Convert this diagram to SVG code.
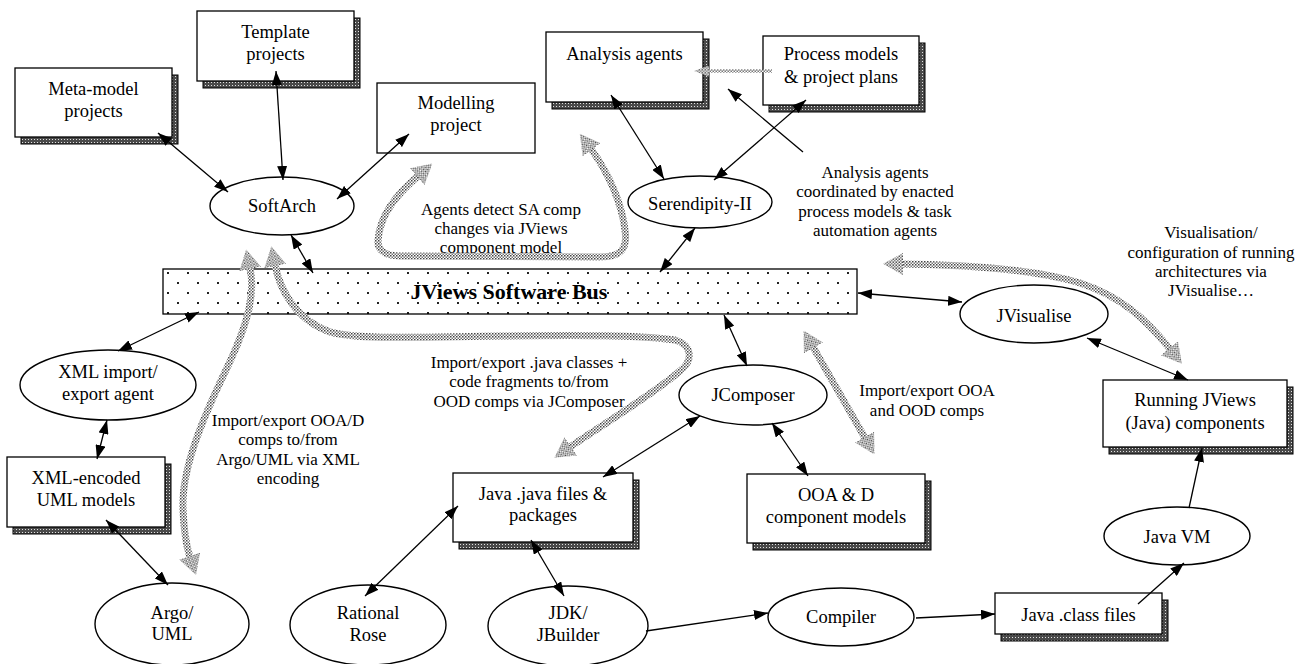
<svg xmlns="http://www.w3.org/2000/svg" width="1297" height="664" viewBox="0 0 1297 664">
<style>
.box{fill:#fff;stroke:#000;stroke-width:1.3}
.shadow{fill:url(#shd);stroke:#000;stroke-width:1}
.ell{fill:#fff;stroke:#000;stroke-width:1.4}
.nt{font-family:"Liberation Serif","Times New Roman",serif;font-size:18.5px;text-anchor:middle;fill:#000}
.lb{font-family:"Liberation Serif","Times New Roman",serif;font-size:17px;text-anchor:middle;fill:#000}
.bus{font-family:"Liberation Serif","Times New Roman",serif;font-size:22px;font-weight:bold;text-anchor:middle;fill:#000}
.con{fill:none;stroke:#000;stroke-width:1.3;marker-end:url(#ah)}
.dbl{marker-start:url(#ah)}
.g{fill:none;stroke:url(#gd);stroke-width:7;marker-start:url(#gh);marker-end:url(#gh)}
</style>
<defs>
<pattern id="shd" width="3" height="3" patternUnits="userSpaceOnUse">
<rect width="3" height="3" fill="#4a4a4a"/>
<rect x="1" y="1" width="1" height="1" fill="#e0e0e0"/>
</pattern>
<pattern id="gd" width="3" height="3" patternUnits="userSpaceOnUse">
<rect width="3" height="3" fill="#fff"/>
<rect width="1.5" height="1.5" fill="#444"/>
<rect x="1.5" y="1.5" width="1.5" height="1.5" fill="#777"/>
</pattern>
<pattern id="bd" x="163" y="269" width="20" height="20" patternUnits="userSpaceOnUse">
<rect width="20" height="20" fill="#fff"/>
<rect x="4" y="3" width="2" height="2" fill="#222"/>
<rect x="14" y="13" width="2" height="2" fill="#222"/>
</pattern>
<marker id="ah" viewBox="0 0 14 10" refX="14" refY="5" markerWidth="14" markerHeight="10" markerUnits="userSpaceOnUse" orient="auto-start-reverse">
<path d="M0,0 L14,5 L0,10 z" fill="#000"/>
</marker>
<marker id="gh" viewBox="0 0 20 22" refX="1" refY="11" markerWidth="20" markerHeight="22" markerUnits="userSpaceOnUse" orient="auto-start-reverse">
<path d="M0,0 L20,11 L0,22 z" fill="url(#gd)"/>
</marker>
<marker id="gsh" viewBox="0 0 15 11" refX="1" refY="5.5" markerWidth="15" markerHeight="11" markerUnits="userSpaceOnUse" orient="auto">
<path d="M0,0 L15,5.5 L0,11 z" fill="url(#gd)"/>
</marker>
</defs>
<rect width="1297" height="664" fill="#fff"/>

<g id="meta-model-projects">
<rect class="shadow" x="21" y="75" width="157" height="69"/>
<rect class="box" x="15" y="68" width="157" height="69"/>
<text class="nt" x="93.5" y="94.5">Meta-model</text>
<text class="nt" x="93.5" y="117">projects</text>
</g>
<g id="template-projects">
<rect class="shadow" x="203" y="18" width="157" height="70"/>
<rect class="box" x="197" y="11" width="157" height="70"/>
<text class="nt" x="275.5" y="37.5">Template</text>
<text class="nt" x="275.5" y="60">projects</text>
</g>
<g id="modelling-project">
<rect class="box" x="377" y="83" width="158" height="70"/>
<text class="nt" x="456" y="108.5">Modelling</text>
<text class="nt" x="456" y="131">project</text>
</g>
<g id="analysis-agents">
<rect class="shadow" x="552" y="39" width="157" height="70"/>
<rect class="box" x="546" y="32" width="157" height="70"/>
<text class="nt" x="624.5" y="59.5">Analysis agents</text>
</g>
<g id="process-models">
<rect class="shadow" x="769" y="43" width="156" height="69"/>
<rect class="box" x="763" y="36" width="156" height="69"/>
<text class="nt" x="841" y="59.5">Process models</text>
<text class="nt" x="841" y="83">&amp; project plans</text>
</g>
<g id="softarch">
<ellipse class="ell" cx="282" cy="206" rx="72" ry="29"/>
<text class="nt" x="282" y="212">SoftArch</text>
</g>
<g id="serendipity">
<ellipse class="ell" cx="700" cy="202" rx="72" ry="26"/>
<text class="nt" x="700" y="210">Serendipity-II</text>
</g>
<g id="jviews-software-bus">
<rect x="163" y="269" width="694" height="45" fill="url(#bd)" stroke="#000" stroke-width="1.3"/>
<text class="bus" x="509" y="299">JViews Software Bus</text>
</g>
<g id="jvisualise">
<ellipse class="ell" cx="1034" cy="314" rx="74" ry="29"/>
<text class="nt" x="1034" y="322">JVisualise</text>
</g>
<g id="xml-import-export-agent">
<ellipse class="ell" cx="108" cy="385" rx="88" ry="35"/>
<text class="nt" x="108" y="378">XML import/</text>
<text class="nt" x="108" y="400">export agent</text>
</g>
<g id="jcomposer">
<ellipse class="ell" cx="753" cy="395" rx="74" ry="30"/>
<text class="nt" x="753" y="401">JComposer</text>
</g>
<g id="running-jviews">
<rect class="shadow" x="1109" y="387" width="184" height="67"/>
<rect class="box" x="1103" y="380" width="184" height="67"/>
<text class="nt" x="1195" y="405.5">Running JViews</text>
<text class="nt" x="1195" y="428.5">(Java) components</text>
</g>
<g id="xml-encoded-uml">
<rect class="shadow" x="13" y="464" width="158" height="70"/>
<rect class="box" x="7" y="457" width="158" height="70"/>
<text class="nt" x="86" y="483.5">XML-encoded</text>
<text class="nt" x="86" y="506">UML models</text>
</g>
<g id="java-files">
<rect class="shadow" x="459" y="480" width="180" height="69"/>
<rect class="box" x="453" y="473" width="180" height="69"/>
<text class="nt" x="543" y="499.5">Java .java files &amp;</text>
<text class="nt" x="543" y="521">packages</text>
</g>
<g id="ooa-d-models">
<rect class="shadow" x="753" y="481" width="178" height="69"/>
<rect class="box" x="747" y="474" width="178" height="69"/>
<text class="nt" x="836" y="500.5">OOA &amp; D</text>
<text class="nt" x="836" y="522.5">component models</text>
</g>
<g id="java-vm">
<ellipse class="ell" cx="1177" cy="536" rx="73" ry="29"/>
<text class="nt" x="1177" y="543">Java VM</text>
</g>
<g id="argo-uml">
<ellipse class="ell" cx="172" cy="624" rx="77" ry="41"/>
<text class="nt" x="172" y="618.5">Argo/</text>
<text class="nt" x="172" y="640">UML</text>
</g>
<g id="rational-rose">
<ellipse class="ell" cx="368" cy="625" rx="78" ry="40"/>
<text class="nt" x="368" y="618.5">Rational</text>
<text class="nt" x="368" y="640.5">Rose</text>
</g>
<g id="jdk-jbuilder">
<ellipse class="ell" cx="568" cy="626" rx="80" ry="40"/>
<text class="nt" x="568" y="618.5">JDK/</text>
<text class="nt" x="568" y="640.5">JBuilder</text>
</g>
<g id="compiler">
<ellipse class="ell" cx="841" cy="617" rx="73" ry="29"/>
<text class="nt" x="841" y="622.5">Compiler</text>
</g>
<g id="java-class-files">
<rect class="shadow" x="1001" y="600" width="167" height="41"/>
<rect class="box" x="995" y="593" width="167" height="41"/>
<text class="nt" x="1078.5" y="620.5">Java .class files</text>
</g>

<g id="labels">
<text class="lb" x="501" y="215">Agents detect SA comp</text>
<text class="lb" x="501" y="234">changes via JViews</text>
<text class="lb" x="501" y="253">component model</text>
<text class="lb" x="875" y="178">Analysis agents</text>
<text class="lb" x="875" y="197">coordinated by enacted</text>
<text class="lb" x="875" y="217">process models &amp; task</text>
<text class="lb" x="875" y="236">automation agents</text>
<text class="lb" x="1211" y="238">Visualisation/</text>
<text class="lb" x="1211" y="258">configuration of running</text>
<text class="lb" x="1211" y="277">architectures via</text>
<text class="lb" x="1211" y="296">JVisualise…</text>
<text class="lb" x="529" y="368">Import/export .java classes +</text>
<text class="lb" x="529" y="387">code fragments to/from</text>
<text class="lb" x="529" y="407">OOD comps via JComposer</text>
<text class="lb" x="288" y="426">Import/export OOA/D</text>
<text class="lb" x="288" y="445">comps to/from</text>
<text class="lb" x="288" y="465">Argo/UML via XML</text>
<text class="lb" x="288" y="484">encoding</text>
<text class="lb" x="927" y="396">Import/export OOA</text>
<text class="lb" x="927" y="416">and OOD comps</text>
</g>

<g id="connectors">
<path class="g" d="M250,268 C255,292 250,320 226,370 C202,420 181,470 183,510 C184,530 186,545 190,557"/>
<path class="g" d="M275,265 C280,290 296,320 330,332 C360,340 420,337 500,336 C580,335 640,335 675,340 C692,345 694,360 680,371 C652,395 602,425 570,447"/>
<path class="g" d="M418,176 C396,195 380,215 378,240 C377,250 385,256 400,256 L600,257 C620,257 628,250 625,230 C622,205 610,175 591,149"/>
<path class="g" d="M902,264 C960,265 1030,268 1080,283 C1120,296 1145,318 1170,349"/>
<path class="g" d="M813,347 L865,438"/>
<path d="M772,71 L708,71" fill="none" stroke="url(#gd)" stroke-width="3" marker-end="url(#gsh)"/>

<path class="con dbl" d="M158,133 L228,192"/>
<path class="con dbl" d="M276,71 L283,180"/>
<path class="con dbl" d="M409,134 L337,199"/>
<path class="con dbl" d="M291,235 L313,273"/>
<path class="con dbl" d="M611,95 L664,179"/>
<path class="con dbl" d="M806,100 L714,180"/>
<path class="con" d="M803,152 L728,89"/>
<path class="con dbl" d="M695,228 L660,272"/>
<path class="con dbl" d="M858,293 L962,302"/>
<path class="con dbl" d="M724,315 L747,366"/>
<path class="con dbl" d="M199,312 L118,351"/>
<path class="con dbl" d="M107,420 L97,459"/>
<path class="con dbl" d="M106,520 L168,585"/>
<path class="con dbl" d="M700,416 L603,477"/>
<path class="con dbl" d="M772,423 L808,476"/>
<path class="con dbl" d="M458,506 L365,596"/>
<path class="con dbl" d="M531,540 L564,596"/>
<path class="con" d="M646,631 L768,613"/>
<path class="con" d="M916,618 L995,614"/>
<path class="con" d="M1138,604 L1184,563"/>
<path class="con" d="M1189,508 L1202,448"/>
<path class="con dbl" d="M1087,338 L1188,380"/>
</g>
</svg>
